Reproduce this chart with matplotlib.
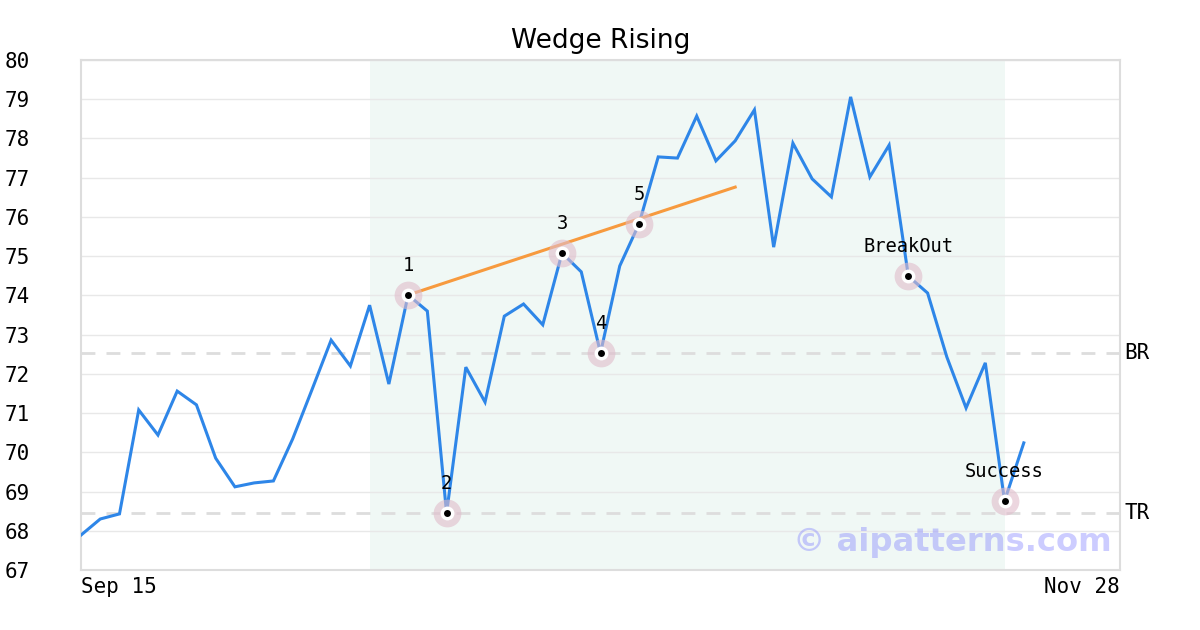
import matplotlib
matplotlib.use("Agg")
import matplotlib.pyplot as plt

# ---- data ----
prices = [67.89, 68.30, 68.43, 71.08, 70.44, 71.56, 71.21, 69.85, 69.12, 69.22,
          69.27, 70.34, 71.59, 72.86, 72.20, 73.75, 71.74, 74.01, 73.60, 68.45,
          72.17, 71.28, 73.47, 73.78, 73.25, 75.08, 74.60, 72.53, 74.75, 75.82,
          77.53, 77.50, 78.57, 77.43, 77.94, 78.73, 75.23, 77.88, 76.97, 76.51,
          79.06, 77.02, 77.83, 74.49, 74.06, 72.43, 71.13, 72.28, 68.76, 70.24]
x_ticks = [0, 54]
x_tick_labels = ["Sep 15", "Nov 28"]
y_ticks = list(range(67, 81))
pattern_idx = [17, 19, 25, 27, 29]
pattern_labels = ["1", "2", "3", "4", "5"]
event_idx = [43, 48]
event_labels = ["BreakOut", "Success"]
wedge_x = [17, 34]
wedge_y = [74.01, 76.76]
span_range = [15, 48]
br_level = 72.53
tr_level = 68.45
title = "Wedge Rising"

fig = plt.figure(figsize=(12, 6.3), dpi=100)
ax = fig.add_axes([81/1200, 60/630, (1120-81)/1200, 510/630])

ax.axvspan(span_range[0], span_range[1], color="#f0f8f5", zorder=0, lw=0)
for v in y_ticks:
    ax.axhline(v, color="#e8e8e8", lw=1, zorder=1)

for lvl in (br_level, tr_level):
    ax.axhline(lvl, color="#dddddd", lw=2, dashes=(5, 4), zorder=1)

xs = list(range(len(prices)))
ax.plot(xs, prices, color="#2e86e8", lw=2.2, zorder=3, solid_joinstyle="miter")
ax.plot(wedge_x, wedge_y, color="#f79a3e", lw=2.2, zorder=3)

all_idx = pattern_idx + event_idx
all_labels = pattern_labels + event_labels
for i, lab in zip(all_idx, all_labels):
    y = prices[i]
    ax.plot([i], [y], "o", ms=20, color="#e0bccb", alpha=0.6, mew=0, zorder=4)
    ax.plot([i], [y], "o", ms=10, color="white", mew=0, zorder=5)
    ax.plot([i], [y], "o", ms=5, color="black", mew=0, zorder=6)
    ax.annotate(lab, (i, y), xytext=(0, 21.5), textcoords="offset points",
                ha="center", va="center", fontsize=13.5,
                family="DejaVu Sans Mono", zorder=7)

ax.text(1.0 - 0.008, 0.053, "© aipatterns.com", transform=ax.transAxes,
        ha="right", va="center", fontsize=23.2, fontweight="bold",
        color=(0.5, 0.5, 1.0), alpha=0.4, family="DejaVu Sans", zorder=8)

ax.set_xlim(0, 54)
ax.set_ylim(67, 80)
ax.set_yticks(y_ticks)
ax.set_yticklabels([str(v) for v in y_ticks], family="DejaVu Sans Mono", fontsize=15)
ax.set_xticks(x_ticks)
ax.set_xticklabels(x_tick_labels, family="DejaVu Sans Mono", fontsize=15)
lbls = ax.get_xticklabels()
lbls[0].set_ha("left")
lbls[1].set_ha("right")
ax.tick_params(axis="y", length=0, pad=37)
ax.tick_params(axis="x", length=0, pad=5)

for s in ax.spines.values():
    s.set_color("#dddddd")
    s.set_linewidth(1.5)

ax.text(1.004, br_level, "BR", transform=ax.get_yaxis_transform(), ha="left",
        va="center", fontsize=15, family="DejaVu Sans Mono")
ax.text(1.004, tr_level, "TR", transform=ax.get_yaxis_transform(), ha="left",
        va="center", fontsize=15, family="DejaVu Sans Mono")

ax.set_title(title, fontsize=19, pad=9)

fig.savefig("out.png", dpi=100, facecolor="white")
